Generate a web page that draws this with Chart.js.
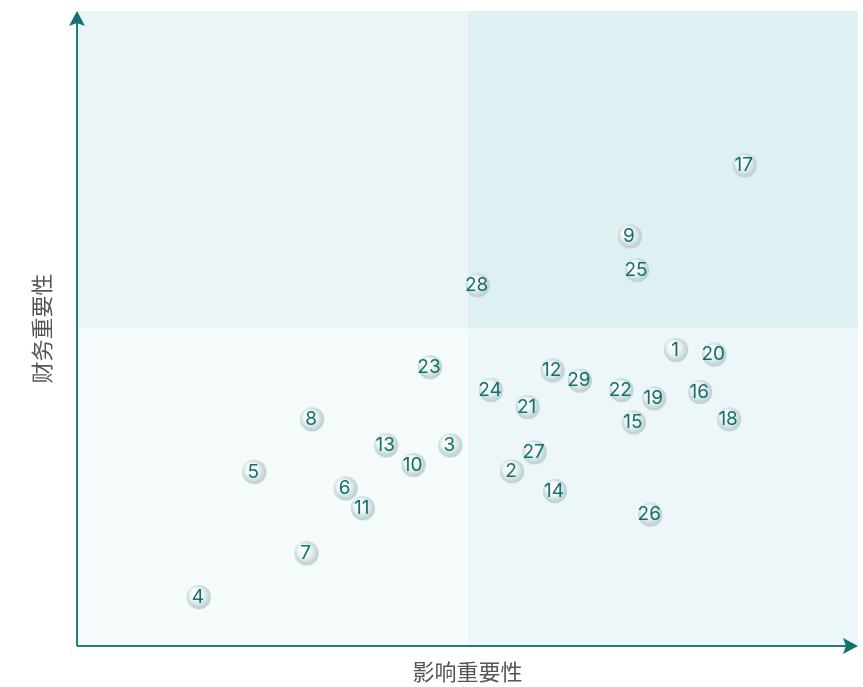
<!DOCTYPE html>
<html>
<head>
<meta charset="utf-8">
<script src="https://cdn.jsdelivr.net/npm/chart.js@4.4.1/dist/chart.umd.min.js"></script>
<style>
  html, body { margin: 0; padding: 0; background: #fff; }
  #wrap { width: 863px; height: 687px; position: relative; }
</style>
</head>
<body>
<div id="wrap"><canvas id="chart"></canvas></div>
<script>
// topic numbers and their scores (0-10 on both axes)
const topics    = [1, 2, 3, 4, 5, 6, 7, 8, 9, 10, 11, 12, 13, 14, 15, 16, 17, 18, 19, 20, 21, 22, 23, 24, 25, 26, 27, 28, 29];
const impact    = [7.67, 5.57, 4.78, 1.56, 2.27, 3.44, 2.94, 3.01, 7.08, 4.31, 3.66, 6.09, 3.96, 6.12, 7.13, 7.98, 8.55, 8.35, 7.39, 8.16, 5.77, 6.97, 4.52, 5.30, 7.17, 7.34, 5.86, 5.13, 6.44];
const financial = [4.66, 2.75, 3.16, 0.77, 2.74, 2.48, 1.46, 3.57, 6.45, 2.85, 2.17, 4.34, 3.16, 2.44, 3.52, 4.00, 7.57, 3.57, 3.90, 4.59, 3.76, 4.03, 4.39, 4.03, 5.92, 2.07, 3.05, 5.68, 4.18];
const axisMin = 0, axisMax = 10, axisMid = 5;

const teal = '#12716c';

// little shaded sphere used as the point marker
function makeBall(r) {
  const c = document.createElement('canvas');
  c.width = c.height = r * 2 + 2;
  const g = c.getContext('2d');
  const cx = r + 1, cy = r + 1;
  const grad = g.createRadialGradient(cx - r * 0.4, cy - r * 0.45, r * 0.1, cx, cy, r * 1.05);
  grad.addColorStop(0, '#ffffff');
  grad.addColorStop(0.5, '#edf3f3');
  grad.addColorStop(1, '#b3caca');
  g.fillStyle = grad;
  g.beginPath();
  g.arc(cx, cy, r, 0, Math.PI * 2);
  g.fill();
  return c;
}
const ball = makeBall(12);

const quadrants = {
  id: 'quadrants',
  beforeDatasetsDraw(chart) {
    const {ctx, chartArea: a, scales: {x, y}} = chart;
    const mx = x.getPixelForValue(axisMid), my = y.getPixelForValue(axisMid);
    ctx.save();
    ctx.fillStyle = '#ebf5f7'; ctx.fillRect(a.left, a.top, mx - a.left, my - a.top);
    ctx.fillStyle = '#dff0f3'; ctx.fillRect(mx, a.top, a.right - mx, my - a.top);
    ctx.fillStyle = '#f5fafb'; ctx.fillRect(a.left, my, mx - a.left, a.bottom - my);
    ctx.fillStyle = '#edf6f8'; ctx.fillRect(mx, my, a.right - mx, a.bottom - my);

    // axes with arrow heads
    ctx.strokeStyle = '#1f7f7b';
    ctx.lineWidth = 2;
    ctx.beginPath();
    ctx.moveTo(a.left, a.bottom); ctx.lineTo(a.left, a.top + 6);
    ctx.moveTo(a.left, a.bottom); ctx.lineTo(a.right - 6, a.bottom);
    ctx.stroke();
    ctx.fillStyle = teal;
    ctx.beginPath();
    ctx.moveTo(a.left, a.top);
    ctx.lineTo(a.left + 8, a.top + 15);
    ctx.lineTo(a.left, a.top + 12);
    ctx.lineTo(a.left - 8, a.top + 15);
    ctx.closePath();
    ctx.fill();
    ctx.beginPath();
    ctx.moveTo(a.right, a.bottom);
    ctx.lineTo(a.right - 15, a.bottom - 8);
    ctx.lineTo(a.right - 12, a.bottom);
    ctx.lineTo(a.right - 15, a.bottom + 8);
    ctx.closePath();
    ctx.fill();
    ctx.restore();
  }
};

const numbers = {
  id: 'numbers',
  afterDatasetsDraw(chart) {
    const ctx = chart.ctx;
    const meta = chart.getDatasetMeta(0);
    ctx.save();
    ctx.fillStyle = teal;
    ctx.font = '19px Inter, "Noto Sans", sans-serif';
    ctx.textAlign = 'center';
    ctx.textBaseline = 'middle';
    meta.data.forEach((pt, i) => {
      ctx.fillText(String(topics[i]), pt.x - 1, pt.y);
    });
    ctx.restore();
  }
};

const points = topics.map((t, i) => ({ x: impact[i], y: financial[i] }));

new Chart(document.getElementById('chart'), {
  type: 'scatter',
  data: {
    datasets: [{
      data: points,
      pointStyle: ball,
      pointRadius: 12,
      pointHoverRadius: 12
    }]
  },
  options: {
    responsive: true,
    maintainAspectRatio: false,
    animation: false,
    events: [],
    layout: { autoPadding: false, padding: { left: 0, right: 5, top: 11, bottom: 0 } },
    plugins: { legend: { display: false }, tooltip: { enabled: false } },
    scales: {
      x: {
        min: axisMin, max: axisMax,
        ticks: { display: false },
        grid: { display: false, drawTicks: false },
        border: { display: false },
        title: {
          display: true, text: '影响重要性', color: '#555555',
          font: { size: 22, family: '"Noto Sans CJK SC", sans-serif' },
          padding: { top: 12.6, bottom: 2 }
        }
      },
      y: {
        min: axisMin, max: axisMax,
        ticks: { display: false },
        grid: { display: false, drawTicks: false },
        border: { display: false },
        title: {
          display: true, text: '财务重要性', color: '#555555',
          font: { size: 22, family: '"Noto Sans CJK SC", sans-serif' },
          padding: { top: 28.8, bottom: 21.8 }
        }
      }
    }
  },
  plugins: [quadrants, numbers]
});
</script>
</body>
</html>
